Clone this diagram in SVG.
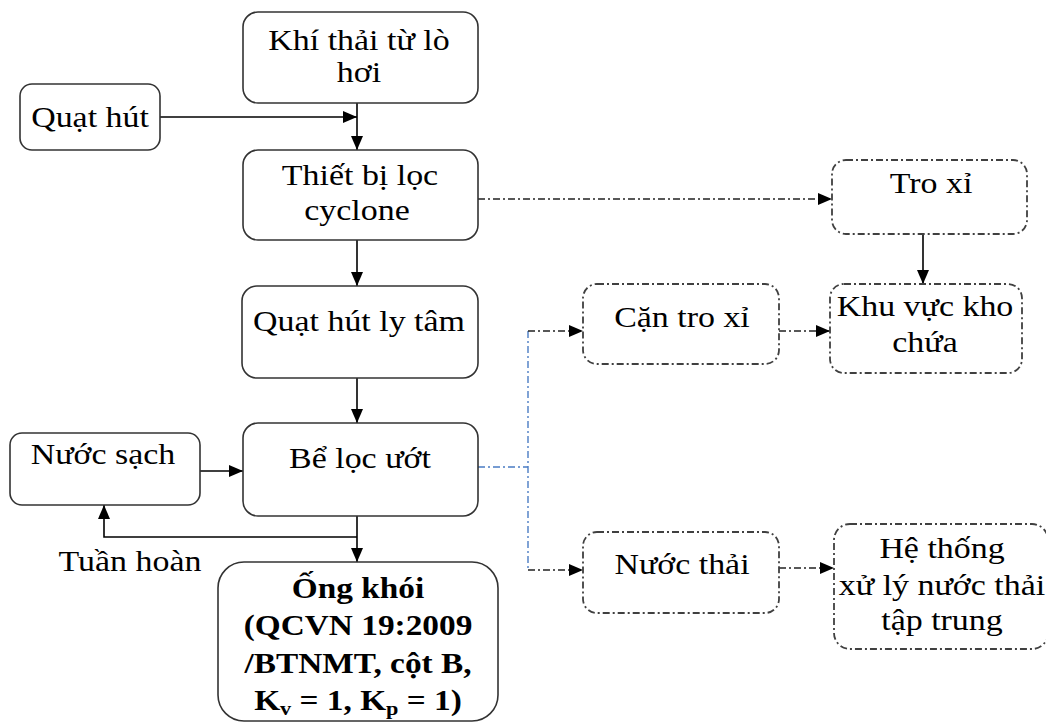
<svg xmlns="http://www.w3.org/2000/svg" width="1046" height="724" viewBox="0 0 1046 724">
  <style>
    .box { fill: #ffffff; stroke: #333333; stroke-width: 1.6; }
    .dbox { fill: #ffffff; stroke: #404040; stroke-width: 1.8; stroke-dasharray: 7 3 2 3; }
    .t { font-family: "Liberation Serif", "Times New Roman", serif; font-size: 28.5px; fill: #000000; text-anchor: middle; }
    .b { font-weight: bold; }
    .sub { font-size: 19px; }
    .line { fill: none; stroke: #000000; stroke-width: 1.6; }
    .dline { fill: none; stroke: #222222; stroke-width: 1.6; stroke-dasharray: 7 3 2 3; }
    .bline { fill: none; stroke: #4a7cc4; stroke-width: 1.4; stroke-dasharray: 7 3 2 3; }
  </style>
  <defs>
    <marker id="arrow" markerUnits="userSpaceOnUse" markerWidth="15" markerHeight="12" refX="14" refY="6" orient="auto">
      <path d="M0,0 L14,6 L0,12 z" fill="#000000"/>
    </marker>
  </defs>

  <rect width="1046" height="724" fill="#ffffff"/>

  <!-- connectors -->
  <g id="connectors">
    <line class="line" x1="160" y1="117" x2="357" y2="117" marker-end="url(#arrow)"/>
    <line class="line" x1="357" y1="103" x2="357" y2="150" marker-end="url(#arrow)"/>
    <line class="line" x1="357" y1="240" x2="357" y2="286" marker-end="url(#arrow)"/>
    <line class="line" x1="357" y1="378" x2="357" y2="423" marker-end="url(#arrow)"/>
    <line class="line" x1="200" y1="471" x2="243" y2="471" marker-end="url(#arrow)"/>
    <line class="line" x1="357" y1="516" x2="357" y2="562" marker-end="url(#arrow)"/>
    <polyline class="line" points="357,537 104,537 104,505" marker-end="url(#arrow)"/>
    <line class="line" x1="923" y1="234" x2="923" y2="284" marker-end="url(#arrow)"/>
    <line class="dline" x1="478" y1="199" x2="832" y2="199" marker-end="url(#arrow)"/>
    <line class="bline" x1="478" y1="467" x2="528" y2="467"/>
    <line class="bline" x1="528" y1="331" x2="528" y2="570"/>
    <line class="dline" x1="528" y1="331" x2="583" y2="331" marker-end="url(#arrow)"/>
    <line class="dline" x1="528" y1="570" x2="583" y2="570" marker-end="url(#arrow)"/>
    <line class="dline" x1="779" y1="331" x2="830" y2="331" marker-end="url(#arrow)"/>
    <line class="dline" x1="779" y1="568" x2="834" y2="568" marker-end="url(#arrow)"/>
  </g>

  <g id="khi-thai">
    <rect class="box" x="243" y="12" width="235" height="91" rx="15"/>
    <text class="t" transform="translate(359 50) scale(1.19 1)">Khí thải từ lò</text>
    <text class="t" transform="translate(359 82) scale(1.19 1)">hơi</text>
  </g>

  <g id="quat-hut">
    <rect class="box" x="20" y="84" width="140" height="66" rx="12"/>
    <text class="t" transform="translate(90 127) scale(1.19 1)">Quạt hút</text>
  </g>

  <g id="cyclone">
    <rect class="box" x="243" y="150" width="235" height="90" rx="15"/>
    <text class="t" transform="translate(360 185) scale(1.19 1)">Thiết bị lọc</text>
    <text class="t" transform="translate(357 220) scale(1.19 1)">cyclone</text>
  </g>

  <g id="tro-xi">
    <rect class="dbox" x="832" y="160" width="195" height="74" rx="14"/>
    <text class="t" transform="translate(931 193) scale(1.19 1)">Tro xỉ</text>
  </g>

  <g id="quat-ly-tam">
    <rect class="box" x="242" y="286" width="236" height="92" rx="15"/>
    <text class="t" transform="translate(359 331) scale(1.19 1)">Quạt hút ly tâm</text>
  </g>

  <g id="can-tro-xi">
    <rect class="dbox" x="583" y="284" width="196" height="80" rx="14"/>
    <text class="t" transform="translate(682 327) scale(1.19 1)">Cặn tro xỉ</text>
  </g>

  <g id="kho-chua">
    <rect class="dbox" x="830" y="284" width="192" height="89" rx="14"/>
    <text class="t" transform="translate(925 316) scale(1.19 1)">Khu vực kho</text>
    <text class="t" transform="translate(925 352) scale(1.19 1)">chứa</text>
  </g>

  <g id="nuoc-sach">
    <rect class="box" x="10" y="433" width="190" height="72" rx="12"/>
    <text class="t" transform="translate(103 464) scale(1.19 1)">Nước sạch</text>
  </g>

  <g id="be-loc-uot">
    <rect class="box" x="243" y="423" width="235" height="93" rx="15"/>
    <text class="t" transform="translate(360 468) scale(1.19 1)">Bể lọc ướt</text>
  </g>

  <g id="tuan-hoan">
    <text class="t" transform="translate(130 571) scale(1.19 1)">Tuần hoàn</text>
  </g>

  <g id="nuoc-thai">
    <rect class="dbox" x="583" y="532" width="196" height="81" rx="14"/>
    <text class="t" transform="translate(682 574) scale(1.19 1)">Nước thải</text>
  </g>

  <g id="he-thong">
    <rect class="dbox" x="834" y="524" width="214" height="125" rx="16"/>
    <text class="t" transform="translate(942 558) scale(1.19 1)">Hệ thống</text>
    <text class="t" transform="translate(942 595) scale(1.19 1)">xử lý nước thải</text>
    <text class="t" transform="translate(942 630) scale(1.19 1)">tập trung</text>
  </g>

  <g id="ong-khoi">
    <rect class="box" x="218" y="562" width="280" height="159" rx="26"/>
    <text class="t b" transform="translate(358 598) scale(1.17 1)">Ống khói</text>
    <text class="t b" transform="translate(358 635) scale(1.17 1)">(QCVN 19:2009</text>
    <text class="t b" transform="translate(358 673) scale(1.17 1)">/BTNMT, cột B,</text>
    <text class="t b" transform="translate(358 710) scale(1.17 1)">K<tspan class="sub" dy="5">v</tspan><tspan dy="-5"> = 1, K</tspan><tspan class="sub" dy="5">p</tspan><tspan dy="-5"> = 1)</tspan></text>
  </g>
</svg>
